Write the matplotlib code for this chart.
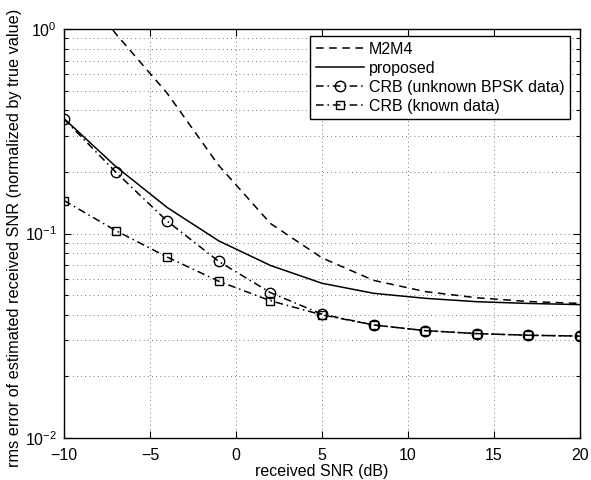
import matplotlib
matplotlib.use("Agg")
import matplotlib.pyplot as plt
from matplotlib.ticker import LogLocator, NullFormatter, MultipleLocator

plt.rcParams['font.family'] = ['Liberation Sans', 'DejaVu Sans']
plt.rcParams['mathtext.fontset'] = 'custom'
plt.rcParams['mathtext.rm'] = 'Liberation Sans'
plt.rcParams['mathtext.it'] = 'Liberation Sans'
plt.rcParams['mathtext.bf'] = 'Liberation Sans'

snr_db = [-10, -7, -4, -1, 2, 5, 8, 11, 14, 17, 20]
m2m4 = [2.0, 0.95, 0.485, 0.215, 0.112, 0.076, 0.059, 0.052, 0.0485, 0.0465, 0.0455]
proposed = [0.365, 0.213, 0.134, 0.092, 0.0698, 0.0571, 0.051, 0.0482, 0.0464, 0.0455, 0.0449]
crb_unknown = [0.363, 0.200, 0.115, 0.073, 0.0514, 0.0403, 0.0357, 0.0335, 0.0324, 0.0318, 0.0315]
crb_known = [0.145, 0.1034, 0.0767, 0.0584, 0.0469, 0.0400, 0.0357, 0.0335, 0.0324, 0.0318, 0.0315]

labels = ['M2M4', 'proposed', 'CRB (unknown BPSK data)', 'CRB (known data)']

fs = 11.5
fig = plt.figure(figsize=(5.91, 4.8), dpi=100)
ax = fig.add_axes([64/591, 1-438/480, (580-64)/591, (438-29)/480])

lw = 1.1
ax.plot(snr_db, m2m4, color='black', lw=lw, dashes=(5.0, 3.6), label=labels[0])
ax.plot(snr_db, proposed, color='black', lw=lw, ls='-', label=labels[1])
ax.plot(snr_db, crb_unknown, color='black', lw=lw, dashes=(5, 2.5, 1, 2.5),
        marker='o', ms=7.5, mfc='none', mec='black', mew=1.0, label=labels[2])
ax.plot(snr_db, crb_known, color='black', lw=lw, dashes=(5, 2.5, 1, 2.5),
        marker='s', ms=5.5, mfc='none', mec='black', mew=1.0, label=labels[3])

ax.set_yscale('log')
ax.set_xlim(-10, 20)
ax.set_ylim(1e-2, 1e0)
ax.xaxis.set_major_locator(MultipleLocator(5))
ax.yaxis.set_major_locator(LogLocator(base=10, numticks=10))
ax.yaxis.set_minor_locator(LogLocator(base=10, subs=range(2, 10), numticks=20))
ax.yaxis.set_minor_formatter(NullFormatter())

ax.grid(True, which='major', axis='both', color='black', ls=(0, (1, 4)), lw=0.6, alpha=0.7)
ax.grid(True, which='minor', axis='y', color='black', ls=(0, (1, 4)), lw=0.6, alpha=0.7)

ax.tick_params(which='both', direction='in', top=True, right=True, labelsize=fs, width=0.8)
ax.tick_params(which='major', length=5)
ax.tick_params(which='minor', length=3)
ax.tick_params(axis='x', pad=7)
ax.tick_params(axis='y', pad=5)
for s in ax.spines.values():
    s.set_linewidth(1.0)

ax.set_xlabel('received SNR (dB)', fontsize=fs, labelpad=1)
ax.set_ylabel('rms error of estimated received SNR (normalized by true value)', fontsize=11.7, labelpad=1)
ax.yaxis.set_label_coords(-0.082, 0.49)

leg = ax.legend(loc='upper right', bbox_to_anchor=(570/591, 1-36/480), bbox_transform=fig.transFigure,
                fontsize=fs, handlelength=3.0, handletextpad=0.3, borderpad=0.35,
                labelspacing=0.25, frameon=True, fancybox=False, framealpha=1, edgecolor='black',
                borderaxespad=0)
leg.get_frame().set_linewidth(1.0)

fig.savefig('out.png', dpi=100)
